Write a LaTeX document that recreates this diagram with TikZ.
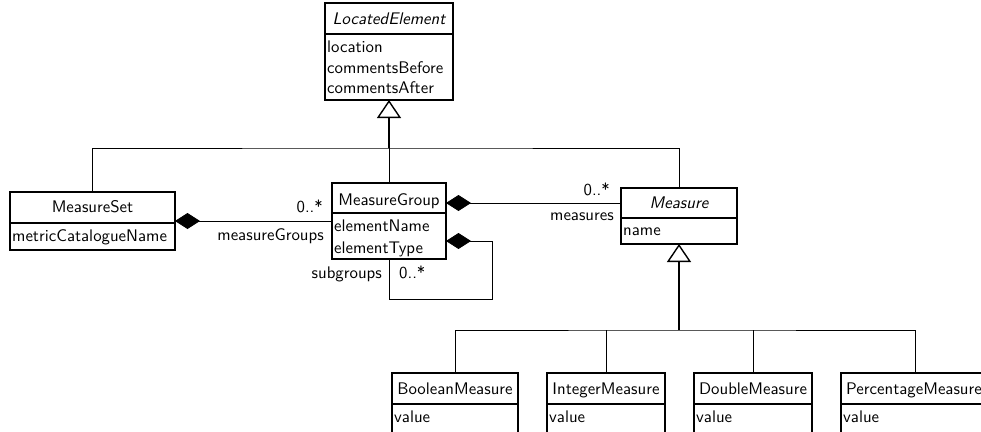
\documentclass[tikz,border=0pt]{standalone}
\usepackage{fontspec}
\usetikzlibrary{arrows.meta}
\newfontfamily\cmssten[ItalicFont=lmsans10-oblique.otf,BoldFont=lmsans10-bold.otf]{lmsans10-regular.otf}
\newcommand\fs{\cmssten\fontsize{16.8}{20}\selectfont}
\newcommand\umlcls[6]{% #1 name, #2 x1, #3 x2, #4 top, #5 separator, #6 bottom
  \node[box,minimum width={#3-#2},minimum height={#5-#4}] (#1) at (#2,#4) {};
  \node[box,minimum width={#3-#2},minimum height={#6-#5}] (#1-b) at (#2,#5) {};}
\begin{document}
\begin{tikzpicture}[x=1pt,y=-1pt,
  box/.style={draw,line width=1.4pt,inner sep=0pt,outer sep=0pt,anchor=north west,rectangle},
  hd/.style={inner sep=0pt,anchor=base,font=\fs},
  att/.style={inner sep=0pt,anchor=base west,font=\fs},
  lblr/.style={inner sep=0pt,anchor=base east,font=\fs},
  lbll/.style={inner sep=0pt,anchor=base west,font=\fs},
  lnk/.style={line width=0.9pt},
  comp/.style={line width=0.9pt,{Diamond[length=25pt,width=16pt]}-},
  inh/.style={line width=1.6pt,-{Triangle[open,length=18pt,width=24pt,fill=white,line width=1.4pt]}}]
\useasboundingbox (0,0) rectangle (981,431);
\clip (0,0) rectangle (981,431);

% classes
\umlcls{le}{325}{453}{3}{34}{100}
\umlcls{ms}{10}{175}{192}{223}{250}
\umlcls{mg}{332}{446}{183}{213}{259}
\umlcls{m}{621}{737}{188}{218}{244}
\umlcls{bm}{392}{518}{373}{404}{450}
\umlcls{im}{547}{665}{373}{404}{450}
\umlcls{dm}{694}{812}{373}{404}{450}
\umlcls{pm}{841}{989}{373}{404}{450}

% texts
\node[hd] (le-t) at (389,24) {\itshape LocatedElement};
\node[att] (le-a1) at (327,52) {location};
\node[att] (le-a2) at (327,73) {commentsBefore};
\node[att] (le-a3) at (327,93) {commentsAfter};

\node[hd] (ms-t) at (92.5,212) {MeasureSet};
\node[att] (ms-a1) at (12,241) {metricCatalogueName};

\node[hd] (mg-t) at (389,205) {MeasureGroup};
\node[att] (mg-a1) at (334,231.5) {elementName};
\node[att] (mg-a2) at (334,253) {elementType};

\node[hd] (m-t) at (679,208) {\itshape Measure};
\node[att] (m-a1) at (623,235) {name};

\node[hd] (bm-t) at (455,394) {BooleanMeasure};
\node[att] (bm-a1) at (394,422) {value};
\node[hd] (im-t) at (606,394) {IntegerMeasure};
\node[att] (im-a1) at (549,422) {value};
\node[hd] (dm-t) at (753,394) {DoubleMeasure};
\node[att] (dm-a1) at (696,422) {value};
\node[lbll] (pm-t) at (846,394) {PercentageMeasure};
\node[att] (pm-a1) at (843,422) {value};

% generalisation to LocatedElement
\coordinate (j0) at (389,148);
\draw[lnk] (ms.north) |- (j0) -| (m.north);
\draw[lnk] (mg.north) -- (j0);
\draw[inh] (j0) -- (le-b.south);

% generalisation to Measure
\coordinate (k0) at (679,330);
\draw[lnk] (bm.north) |- (k0) -| (pm.north);
\draw[lnk] (im.north) -- (im.north |- k0);
\draw[lnk] (dm.north) -- (dm.north |- k0);
\draw[inh] (k0) -- (m-b.south);

% compositions
\draw[comp] ([yshift=2pt]ms.south east) -- ([yshift=2pt]ms.south east -| mg.west);
\node[lblr] (l1) at (323,212) {0..*};
\node[lblr] (l2) at (324,240) {measureGroups};

\draw[comp] (mg.east |- m.west) -- (m.west);
\node[lblr] (l3) at (610,195) {0..*};
\node[lblr] (l4) at (614,220) {measures};

\coordinate (lp) at (492,299);
\draw[comp] ([yshift=-5pt]mg-b.east) -| (lp) -- (lp -| mg-b.south) -- (mg-b.south);
\node[lblr] (l5) at (382,278) {subgroups};
\node[lbll] (l6) at (399,278) {0..*};
\end{tikzpicture}
\end{document}
